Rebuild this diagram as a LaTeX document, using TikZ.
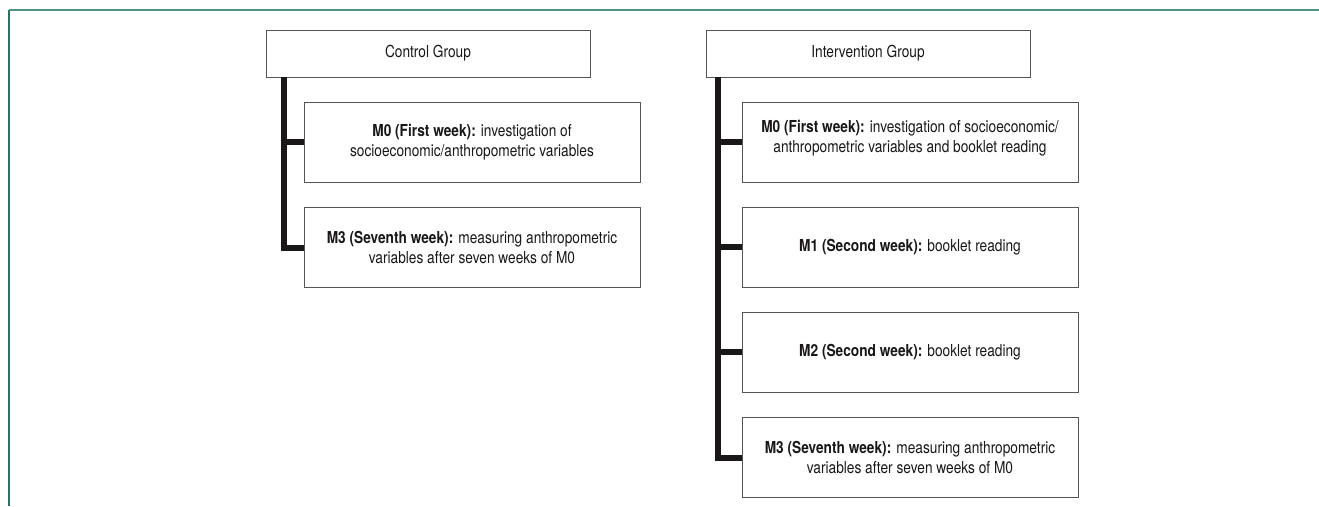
\documentclass[tikz,border=0pt]{standalone}
\usepackage{fontspec}
\setmainfont{TeX Gyre Heros}[FakeStretch=0.83]
\definecolor{txt}{HTML}{1A1718}
\definecolor{boxgray}{HTML}{555555}
\definecolor{tealtop}{HTML}{4F9384}
\definecolor{tealleft}{HTML}{2E7262}
\begin{document}
\begin{tikzpicture}[x=1pt,y=-1pt,
  box/.style={draw=boxgray, line width=1pt, fill=white, align=center, inner sep=0pt,
    font=\fontsize{16.5}{20}\selectfont, text=txt},
  grp/.style={box, minimum width=324pt, minimum height=47pt},
  sub/.style={box, minimum width=336pt, minimum height=80pt},
  trunk/.style={line width=6pt, draw=txt, line join=miter}]
\useasboundingbox (0,0) rectangle (1319,506);
% frame
\coordinate (fTL) at (9,10);
\coordinate (fTR) at (1319,10);
\coordinate (fBL) at (9,506);
\draw[tealtop, line width=1.6pt] (fTL) -- (fTR);
\draw[tealleft, line width=1.6pt] (fTL) -- (fBL);
% control group
\node[grp] (cg) at (428,53.5) {Control Group};
\node[sub] (cm0) at (472,142) {\textbf{M0 (First week):} investigation of\\socioeconomic/anthropometric variables};
\node[sub] (cm3) at (472,247.5) {\textbf{M3 (Seventh week):} measuring anthropometric\\variables after seven weeks of M0};
\coordinate (ctop) at (284,77);
\draw[trunk] (ctop) |- (cm3.west);
\draw[trunk] (ctop |- cm0.west) -- (cm0.west);
% intervention group
\node[grp] (ig) at (868,53.5) {Intervention Group};
\node[sub] (im0) at (910,142) {\textbf{M0 (First week):} investigation of socioeconomic/\\anthropometric variables and booklet reading\\[-8pt]\mbox{}};
\node[sub] (im1) at (910,247) {\textbf{M1 (Second week):} booklet reading};
\node[sub] (im2) at (910,352) {\textbf{M2 (Second week):} booklet reading};
\node[sub] (im3) at (910,457.5) {\textbf{M3 (Seventh week):} measuring anthropometric\\variables after seven weeks of M0};
\coordinate (itop) at (718,77);
\draw[trunk] (itop) |- (im3.west);
\draw[trunk] (itop |- im0.west) -- (im0.west);
\draw[trunk] (itop |- im1.west) -- (im1.west);
\draw[trunk] (itop |- im2.west) -- (im2.west);
\end{tikzpicture}
\end{document}
